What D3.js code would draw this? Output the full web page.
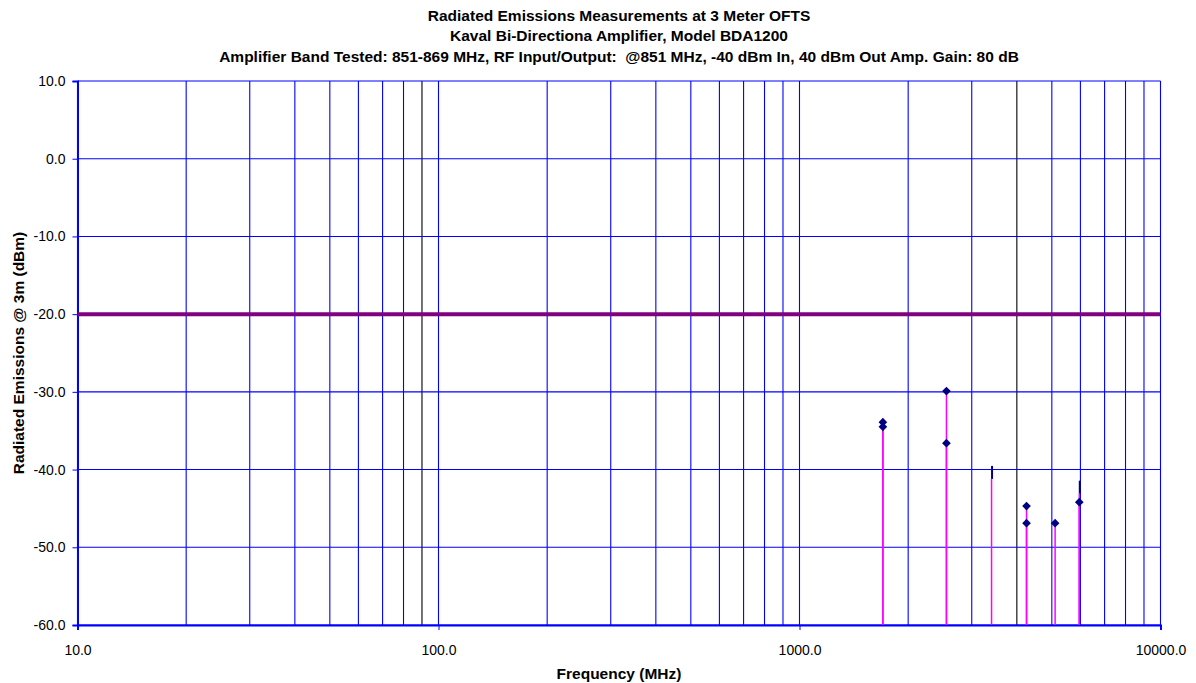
<!DOCTYPE html>
<html>
  <head>
    <meta charset="utf-8">
    <title>Radiated Emissions</title>
    <script src="https://d3js.org/d3.v7.min.js"></script>
    <style>
      body { margin: 0; background: #fff; }
      text { font-family: Arial, "Liberation Sans", sans-serif; }
    </style>
  </head>
  <body>
    <svg width="1196" height="683" id="mainsvg"></svg>
    <script>
        // titles
        const titleLines = [
          'Radiated Emissions Measurements at 3 Meter OFTS',
          'Kaval Bi-Directiona Amplifier, Model BDA1200',
          'Amplifier Band Tested: 851-869 MHz, RF Input/Output:  @851 MHz, -40 dBm In, 40 dBm Out Amp. Gain: 80 dB'
        ];

        // measured harmonics, diamond markers
        const diamondFreq  = [1702, 1702, 2553, 2553, 4255, 4255, 5106, 5957];
        const diamondLevel = [-33.9, -34.5, -29.9, -36.6, -44.7, -46.9, -46.9, -44.2];
        // measured harmonics, dash markers
        const dashFreq  = [3404, 5957];
        const dashLevel = [-41.2, -43.1];

        const limitLevel = -20;

        const yTicks = [10, 0, -10, -20, -30, -40, -50, -60];
        const xTicks = [10, 100, 1000, 10000];
        // minor grid lines drawn darker in the original
        const darkGrid = [90, 4000];

        const svg = d3.select('#mainsvg');
        const margin = {top: 81, left: 77.5, right: 35.5, bottom: 58};
        const width = +svg.attr('width');
        const height = +svg.attr('height');

        const x = d3.scaleLog().domain([10, 10000]).range([margin.left, width - margin.right]);
        const y = d3.scaleLinear().domain([-60, 10]).range([height - margin.bottom, margin.top]);

        const fmt = d => d3.format('.1f')(d).replace('\u2212', '-');

        // all grid frequencies 10..10000
        const gridFreq = [];
        for (let dec = 10; dec < 10000; dec *= 10) {
          for (let k = 1; k <= 9; k++) gridFreq.push(dec * k);
        }
        gridFreq.push(10000);

        svg.append('g').selectAll('line').data(gridFreq).join('line')
          .attr('x1', d => x(d)).attr('x2', d => x(d))
          .attr('y1', y(10)).attr('y2', y(-60))
          .attr('stroke', d => darkGrid.includes(d) ? '#000' : '#0000ff')
          .attr('stroke-width', 1.1);

        svg.append('g').selectAll('line').data(yTicks).join('line')
          .attr('x1', x(10)).attr('x2', x(10000))
          .attr('y1', d => y(d)).attr('y2', d => y(d))
          .attr('stroke', '#0000ff').attr('stroke-width', 1.1);

        // axes
        const yAxis = d3.axisLeft(y).tickValues(yTicks).tickFormat(fmt).tickSize(5);
        const gy = svg.append('g').attr('transform', `translate(${x(10)},0)`).call(yAxis);
        const xAxis = d3.axisBottom(x).tickValues(xTicks).tickFormat(fmt).tickSize(5);
        const gx = svg.append('g').attr('transform', `translate(0,${y(-60)})`).call(xAxis);

        [gx, gy].forEach(g => {
          g.select('.domain').attr('stroke', '#0000ff').attr('stroke-width', 2);
          g.selectAll('.tick line').attr('stroke', '#0000ff');
          g.selectAll('.tick text').attr('font-size', 14).attr('fill', '#000');
        });
        gy.selectAll('.tick text').attr('x', -12);
        gx.selectAll('.tick text').attr('y', 20);

        // limit line
        svg.append('line')
          .attr('x1', x(10)).attr('x2', x(10000))
          .attr('y1', y(limitLevel)).attr('y2', y(limitLevel))
          .attr('stroke', '#800080').attr('stroke-width', 4);

        // stems
        const stems = diamondFreq.map((f, i) => ({f, v: diamondLevel[i]}))
          .concat(dashFreq.map((f, i) => ({f, v: dashLevel[i]})));
        svg.append('g').selectAll('line').data(stems).join('line')
          .attr('x1', d => x(d.f)).attr('x2', d => x(d.f))
          .attr('y1', y(-60)).attr('y2', d => y(d.v))
          .attr('stroke', '#ff00ff').attr('stroke-width', 1.5);

        // diamonds
        const diamond = d3.symbol().type(d3.symbolDiamond2).size(48);
        svg.append('g').selectAll('path').data(diamondFreq).join('path')
          .attr('d', diamond)
          .attr('transform', (d, i) => `translate(${x(d)},${y(diamondLevel[i])})`)
          .attr('fill', '#000080');

        // dashes
        svg.append('g').selectAll('line').data(dashFreq).join('line')
          .attr('x1', d => x(d) + 0.5).attr('x2', d => x(d) + 0.5)
          .attr('y1', (d, i) => y(dashLevel[i]) - 13).attr('y2', (d, i) => y(dashLevel[i]))
          .attr('stroke', '#000080').attr('stroke-width', 2);

        // titles
        const cx = (x(10) + x(10000)) / 2;
        svg.append('g').selectAll('text').data(titleLines).join('text')
          .attr('x', cx).attr('y', (d, i) => 20.5 + i * 20.5)
          .attr('text-anchor', 'middle').attr('font-weight', 'bold').attr('font-size', 15.5)
          .style('white-space', 'pre')
          .text(d => d);

        svg.append('text').attr('x', cx).attr('y', 679)
          .attr('text-anchor', 'middle').attr('font-weight', 'bold').attr('font-size', 15.5)
          .text('Frequency (MHz)');

        svg.append('text')
          .attr('transform', `translate(24,${(y(10) + y(-60)) / 2}) rotate(-90)`)
          .attr('text-anchor', 'middle').attr('font-weight', 'bold').attr('font-size', 15.5)
          .text('Radiated Emissions @ 3m (dBm)');
    </script>
  </body>
</html>
